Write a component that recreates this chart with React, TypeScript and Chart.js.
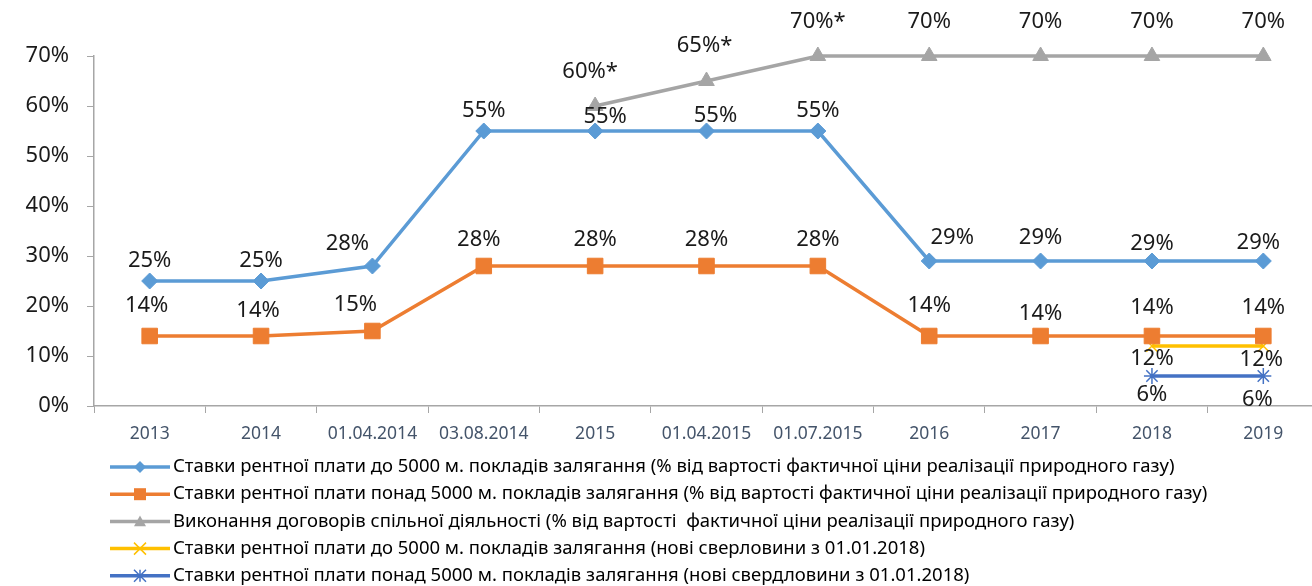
import React, { useEffect, useRef } from "react";
import { Chart, registerables } from "chart.js";

Chart.register(...registerables);

const categories = ["2013", "2014", "01.04.2014", "03.08.2014", "2015", "01.04.2015", "01.07.2015", "2016", "2017", "2018", "2019"];
const rentUnder5000 = [25, 25, 28, 55, 55, 55, 55, 29, 29, 29, 29];
const rentOver5000 = [14, 14, 15, 28, 28, 28, 28, 14, 14, 14, 14];
const jointActivity = [null, null, null, null, 60, 65, 70, 70, 70, 70, 70];
const jointActivityNote = ["", "", "", "", "*", "*", "*", "", "", "", ""];
const newWellsUnder5000 = [null, null, null, null, null, null, null, null, null, 12, 12];
const newWellsOver5000 = [null, null, null, null, null, null, null, null, null, 6, 6];
const yTicks = [0, 10, 20, 30, 40, 50, 60, 70];

const seriesNames = [
  "Ставки рентної плати до 5000 м. покладів залягання (% від вартості фактичної ціни реалізації природного газу)",
  "Ставки рентної плати понад 5000 м. покладів залягання (% від вартості фактичної ціни реалізації природного газу)",
  "Виконання договорів спільної діяльності (% від вартості  фактичної ціни реалізації природного газу)",
  "Ставки рентної плати до 5000 м. покладів залягання (нові сверловини з 01.01.2018)",
  "Ставки рентної плати понад 5000 м. покладів залягання (нові свердловини з 01.01.2018)",
];

const COLORS = ["#5B9BD5", "#ED7D31", "#A5A5A5", "#FFC000", "#4472C4"];
const MARKERS = ["diamond", "square", "triangle", "cross", "star"];

// label placement (offsets from point, px)
const LABEL_DY = [-20, -28, -34, 13, 19];
const LABEL_TWEAKS: Record<string, [number, number]> = {
  "0-2": [-25, -22], "0-4": [10, -14], "0-5": [9, -15], "0-7": [23, -23], "0-8": [0, -23], "0-9": [0, -17], "0-10": [-5, -18],
  "1-0": [-3, -30], "1-1": [-3, -25], "1-2": [-17, -26], "1-3": [-5, -26], "1-4": [0, -26], "1-5": [0, -26], "1-6": [0, -26],
  "1-7": [0, -30], "1-8": [0, -22], "1-9": [0, -28], "1-10": [0, -28],
  "2-4": [-5, -34], "2-5": [-2, -35],
  "3-10": [-2, 14], "4-10": [-6, 24],
};

function drawMarker(ctx: CanvasRenderingContext2D, kind: string, x: number, y: number, r: number, color: string) {
  ctx.save();
  ctx.fillStyle = color;
  ctx.strokeStyle = color;
  ctx.lineWidth = 1.5;
  ctx.beginPath();
  if (kind === "diamond") {
    ctx.moveTo(x, y - r); ctx.lineTo(x + r, y); ctx.lineTo(x, y + r); ctx.lineTo(x - r, y); ctx.closePath(); ctx.fill();
  } else if (kind === "square") {
    ctx.rect(x - r, y - r, 2 * r, 2 * r); ctx.fill();
  } else if (kind === "triangle") {
    ctx.moveTo(x, y - r); ctx.lineTo(x + r, y + r * 0.8); ctx.lineTo(x - r, y + r * 0.8); ctx.closePath(); ctx.fill();
  } else if (kind === "cross") {
    ctx.moveTo(x - r, y - r); ctx.lineTo(x + r, y + r); ctx.moveTo(x + r, y - r); ctx.lineTo(x - r, y + r); ctx.stroke();
  } else {
    ctx.moveTo(x - r, y - r); ctx.lineTo(x + r, y + r); ctx.moveTo(x + r, y - r); ctx.lineTo(x - r, y + r);
    ctx.moveTo(x, y - r); ctx.lineTo(x, y + r); ctx.stroke();
  }
  ctx.restore();
}

const valueLabels = {
  id: "valueLabels",
  afterDatasetsDraw(chart: any) {
    const ctx = chart.ctx as CanvasRenderingContext2D;
    ctx.save();
    ctx.font = "22px 'Noto Sans'";
    ctx.fillStyle = "#1a1a1a";
    ctx.textAlign = "center";
    ctx.textBaseline = "middle";
    chart.data.datasets.forEach((ds: any, i: number) => {
      const meta = chart.getDatasetMeta(i);
      meta.data.forEach((pt: any, j: number) => {
        const v = ds.data[j];
        if (v === null || v === undefined) return;
        const tw = LABEL_TWEAKS[`${i}-${j}`] || [0, LABEL_DY[i]];
        const note = i === 2 ? jointActivityNote[j] : "";
        ctx.fillText(`${v}%${note}`, pt.x + tw[0], pt.y + tw[1]);
      });
    });
    ctx.restore();
  },
};

const customLegend = {
  id: "customLegend",
  afterDraw(chart: any) {
    const ctx = chart.ctx as CanvasRenderingContext2D;
    ctx.save();
    ctx.font = "18.5px 'Noto Sans'";
    ctx.textBaseline = "middle";
    ctx.textAlign = "left";
    seriesNames.forEach((name, i) => {
      const y = 467 + i * 27.2;
      ctx.strokeStyle = COLORS[i];
      ctx.lineWidth = 3.5;
      ctx.beginPath();
      ctx.moveTo(110, y);
      ctx.lineTo(170, y);
      ctx.stroke();
      drawMarker(ctx, MARKERS[i], 140, y, i === 1 ? 6 : 6, COLORS[i]);
      ctx.fillStyle = "#000";
      ctx.fillText(name, 173, y);
    });
    ctx.restore();
  },
};

export default function App() {
  const ref = useRef<HTMLCanvasElement | null>(null);
  useEffect(() => {
    if (!ref.current) return;
    const mk = (i: number, data: (number | null)[], style: string, radius: number) => ({
      label: seriesNames[i],
      data,
      borderColor: COLORS[i],
      backgroundColor: COLORS[i],
      pointBackgroundColor: COLORS[i],
      pointBorderColor: COLORS[i],
      borderWidth: 3.5,
      pointStyle: style,
      pointRadius: radius,
      pointBorderWidth: style === "crossRot" || style === "star" ? 1.5 : 1,
      tension: 0,
      spanGaps: false,
      clip: false as any,
    });
    const chart = new Chart(ref.current, {
      type: "line",
      data: {
        labels: categories,
        datasets: [
          mk(0, rentUnder5000, "rectRot", 8),
          mk(1, rentOver5000, "rect", 11),
          mk(2, jointActivity, "triangle", 9),
          mk(3, newWellsUnder5000, "crossRot", 8),
          mk(4, newWellsOver5000, "star", 8),
        ],
      },
      options: {
        responsive: false,
        animation: false,
        layout: { padding: { top: 56, bottom: 140, left: 0, right: 0 } },
        plugins: { legend: { display: false }, tooltip: { enabled: false } },
        scales: {
          x: {
            offset: true,
            grid: { offset: true, drawOnChartArea: false, drawTicks: true, tickLength: 7, color: "#A6A6A6" },
            border: { display: true, color: "#A6A6A6", width: 1.5 },
            ticks: { color: "#44546A", font: { family: "'Noto Sans'", size: 17.5 }, padding: 11, maxRotation: 0, autoSkip: false },
            afterFit: (s: any) => { s.height = 40; },
          },
          y: {
            min: 0,
            max: 70,
            afterBuildTicks: (s: any) => { s.ticks = yTicks.map((v) => ({ value: v })); },
            grid: { drawOnChartArea: false, drawTicks: true, tickLength: 7, color: "#A6A6A6" },
            border: { display: true, color: "#A6A6A6", width: 1.5 },
            ticks: { color: "#1a1a1a", font: { family: "'Noto Sans'", size: 22 }, padding: 18, callback: (v: any) => `${v}%` },
            afterFit: (s: any) => { s.width = 94; },
          },
        },
      },
      plugins: [valueLabels, customLegend],
    });
    return () => chart.destroy();
  }, []);
  return (
    <div style={{ position: "fixed", left: 0, top: 0, width: 1312, height: 586, overflow: "hidden", background: "#fff" }}>
      <canvas ref={ref} width={1331} height={586} />
    </div>
  );
}
